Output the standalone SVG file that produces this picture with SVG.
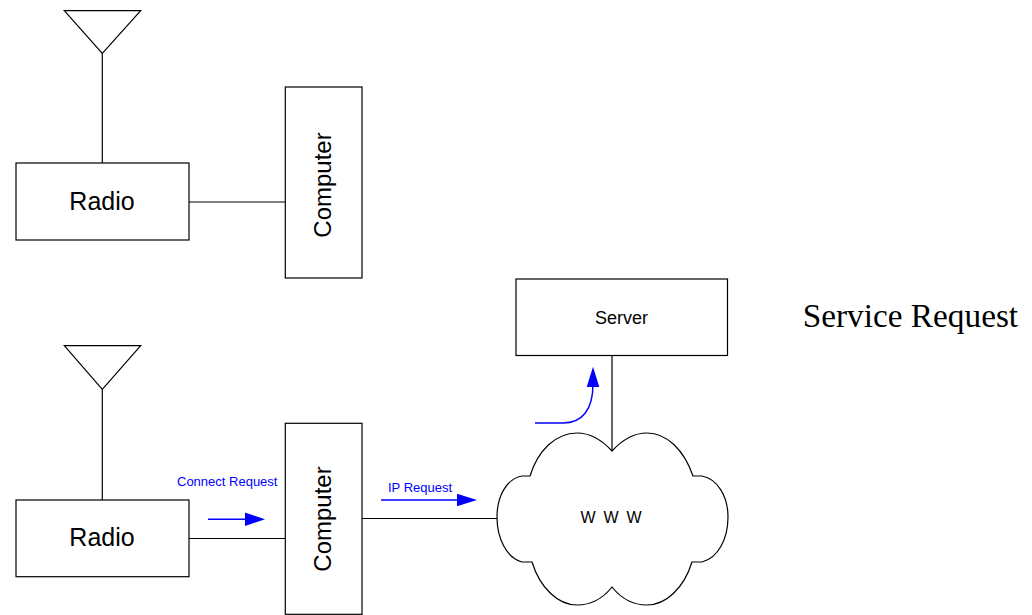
<svg xmlns="http://www.w3.org/2000/svg" width="1032" height="615" viewBox="0 0 1032 615">
<style>
.box{fill:#fff;stroke:#000;stroke-width:1.2}
.ln{fill:none;stroke:#000;stroke-width:1.2}
.bl{fill:none;stroke:#00f;stroke-width:1.5}
.bh{fill:#00f;stroke:none}
.t{font-family:"Liberation Sans",Arial,sans-serif;fill:#000;text-anchor:middle}
.bt{font-family:"Liberation Sans",Arial,sans-serif;fill:#00f;font-size:13px}
</style>
<rect width="1032" height="615" fill="#fff"/>
<g id="connectors">
<line class="ln" x1="102.3" y1="53" x2="102.3" y2="163"/>
<line class="ln" x1="189" y1="202" x2="285" y2="202"/>
<line class="ln" x1="102.3" y1="389" x2="102.3" y2="500"/>
<line class="ln" x1="189" y1="538.5" x2="285" y2="538.5"/>
<line class="ln" x1="362" y1="518.5" x2="500" y2="518.5"/>
<line class="ln" x1="612" y1="355.5" x2="612" y2="451"/>
</g>
<g id="antenna1"><polygon class="box" points="64.3,10.7 140.7,10.7 102.3,53.3"/></g>
<g id="radio1">
<rect class="box" x="16" y="163" width="173" height="77"/>
<text class="t" x="102" y="210" font-size="25">Radio</text>
</g>
<g id="computer1">
<rect class="box" x="285.3" y="87" width="76.7" height="191"/>
<text class="t" font-size="24" transform="translate(331,185) rotate(-90)">Computer</text>
</g>
<g id="antenna2"><polygon class="box" points="64.3,345.7 140.7,345.7 102.3,389.3"/></g>
<g id="radio2">
<rect class="box" x="16" y="500" width="173" height="76.7"/>
<text class="t" x="102" y="546" font-size="25">Radio</text>
</g>
<g id="computer2">
<rect class="box" x="285.3" y="423.3" width="76.7" height="191"/>
<text class="t" font-size="24" transform="translate(331,519) rotate(-90)">Computer</text>
</g>
<g id="server">
<rect class="box" x="516" y="279" width="211.5" height="76.5"/>
<text class="t" x="621.5" y="324" font-size="18">Server</text>
</g>
<g id="www">
<path class="box" d="M612,451 C600,438 589,433 577,433 C556,433 538,450 530,476 L522,476 C506,479 497,497 497,517 C497,539 507,558 522,562 L532,562 C540,588 558,605 577,605 C592,605 604,597 612,587 C620,597 632,605 647,605 C666,605 684,588 692,562 L702,562 C718,558 728,539 728,517 C728,497 718,479 702,476 L693,476 C684,450 667,433 647,433 C636,433 624,438 612,451 Z"/>
<text class="t" x="611" y="523" font-size="16" word-spacing="3.5">W W W</text>
</g>
<g id="flow">
<text class="bt" x="177" y="486">Connect Request</text>
<line class="bl" x1="208" y1="519.3" x2="248" y2="519.3"/>
<polygon class="bh" points="245,512.6 265,519.3 245,526"/>
<text class="bt" x="388" y="492">IP Request</text>
<line class="bl" x1="381" y1="500" x2="460" y2="500"/>
<polygon class="bh" points="457,493.7 477,500 457,506.3"/>
<path class="bl" d="M535,423 L563,423 C582,423 593,410 593,384"/>
<polygon class="bh" points="593,366.7 599.3,387 586.7,387"/>
</g>
<g id="title">
<text x="802.7" y="327.3" font-family="'Liberation Serif','Times New Roman',serif" font-size="33.3" fill="#000">Service Request</text>
</g>
</svg>
